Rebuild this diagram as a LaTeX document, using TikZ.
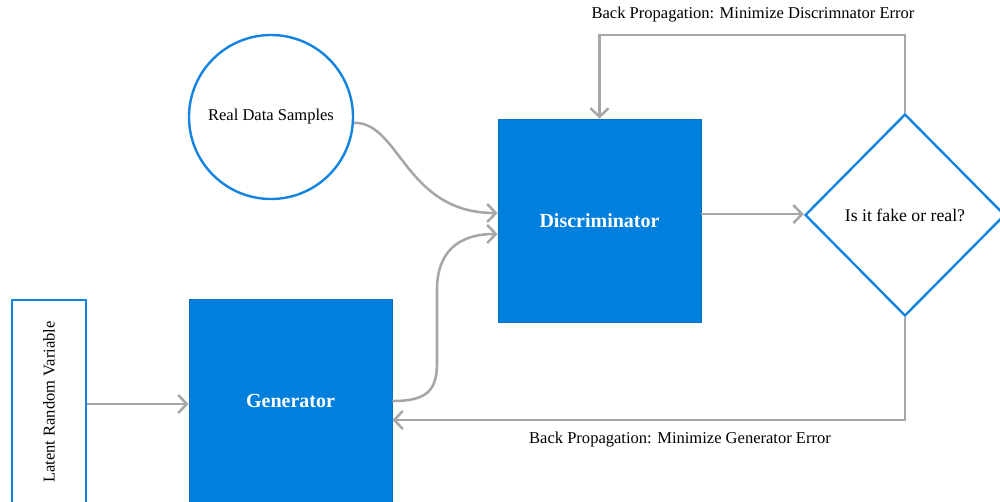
\documentclass[tikz,border=0pt]{standalone}
\usepackage{fontspec}
\setmainfont{Liberation Serif}
\usetikzlibrary{shapes.geometric,arrows.meta}
\definecolor{ganblue}{RGB}{0,127,220}
\definecolor{ganedge}{RGB}{10,110,195}
\definecolor{outlineblue}{RGB}{20,132,224}
\definecolor{flowgray}{RGB}{166,166,166}

\begin{document}
\begin{tikzpicture}[x=0.75pt,y=-0.75pt,
  block/.style={fill=ganblue, draw=ganedge, line width=0.6pt,
    minimum width=152.25pt, minimum height=152.25pt, inner sep=0pt,
    text=white, font=\fontsize{15}{18}\selectfont\bfseries},
  outlined/.style={draw=outlineblue, line width=1.8pt, fill=white, inner sep=0pt,
    font=\fontsize{12.4}{15}\selectfont},
  flow/.style={draw=flowgray, line width=1.9pt,
    -{Straight Barb[length=6.5pt,width=13.5pt,line width=1.9pt]}},
  lbl/.style={font=\fontsize{12.4}{15}\selectfont}]

\clip (0,0) rectangle (1000,501);

% components
\node[outlined, minimum width=55.5pt, minimum height=153pt] (latent) at (49,402)
  {\rotatebox{90}{Latent Random Variable}};
\node[block, minimum height=153pt] (gen) at (290.5,401) {Generator};
\node[block] (disc) at (599.5,220.5) {Discriminator};
\node[outlined, circle, minimum size=123pt] (real) at (271,117) {Real Data Samples};
\node[outlined, diamond, minimum width=150pt, minimum height=151.5pt,
  font=\fontsize{13.3}{16}\selectfont] (judge) at (905,215) {Is it fake or real?};

% forward flow
\draw[flow] ([yshift=-1.5pt]latent.east) -- ([yshift=-1.5pt]latent.east -| gen.west);
\draw[flow] (real.-4) .. controls (400,122) and (405,213) .. ([yshift=5.6pt]disc.west);
\draw[flow] (gen.east) .. controls (428,401) and (437,390) .. (437,362) -- (437,290)
  .. controls (437,252) and (458,234) .. ([yshift=-10.1pt]disc.west);
\draw[flow] ([yshift=4.8pt]disc.east) -- ([yshift=4.8pt]disc.east -| judge.west);

% feedback loops
\draw[flow] (judge.north) -- ++(0,-78) -| (disc.north);
\node[lbl] (dlabel) at (753,15) {Back Propagation: Minimize Discrimnator Error};
\draw[flow] (judge.south) |- ([yshift=-14.25pt]gen.east);
\node[lbl] (glabel) at (680,440) {Back Propagation: Minimize Generator Error};
\end{tikzpicture}
\end{document}
